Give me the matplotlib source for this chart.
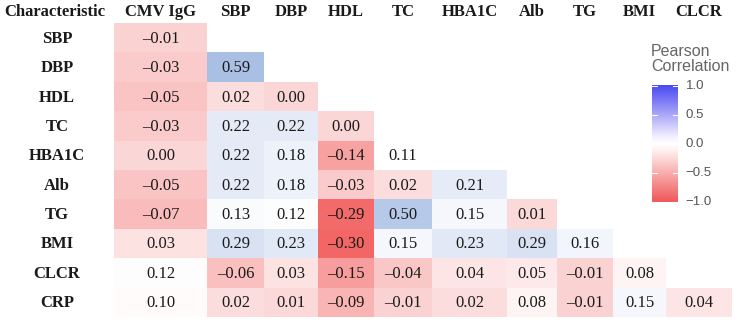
import numpy as np
import matplotlib.pyplot as plt
from matplotlib.colors import LinearSegmentedColormap, TwoSlopeNorm

cols = ["CMV IgG", "SBP", "DBP", "HDL", "TC", "HBA1C", "Alb", "TG", "BMI", "CLCR"]
rows = ["SBP", "DBP", "HDL", "TC", "HBA1C", "Alb", "TG", "BMI", "CLCR", "CRP"]

r_sbp = [-0.01]
r_dbp = [-0.03, 0.59]
r_hdl = [-0.05, 0.02, 0.00]
r_tc = [-0.03, 0.22, 0.22, 0.00]
r_hba1c = [0.00, 0.22, 0.18, -0.14, 0.11]
r_alb = [-0.05, 0.22, 0.18, -0.03, 0.02, 0.21]
r_tg = [-0.07, 0.13, 0.12, -0.29, 0.50, 0.15, 0.01]
r_bmi = [0.03, 0.29, 0.23, -0.30, 0.15, 0.23, 0.29, 0.16]
r_clcr = [0.12, -0.06, 0.03, -0.15, -0.04, 0.04, 0.05, -0.01, 0.08]
r_crp = [0.10, 0.02, 0.01, -0.09, -0.01, 0.02, 0.08, -0.01, 0.15, 0.04]
all_rows = [r_sbp, r_dbp, r_hdl, r_tc, r_hba1c, r_alb, r_tg, r_bmi, r_clcr, r_crp]

# lower triangle matrix, nan above
M = np.full((len(rows), len(cols)), np.nan)
for i, vals in enumerate(all_rows):
    M[i, :len(vals)] = vals

# layout in pixel units
xedges = np.array([114, 207, 264, 318, 374, 432, 507, 557, 613, 666, 732])
y0, rh = 23, 29.4
yedges = y0 + rh * np.arange(len(rows) + 1)

serif = ["Liberation Serif", "DejaVu Serif"]
sans = ["Liberation Sans", "DejaVu Sans"]
fs = 12

fig = plt.figure(figsize=(7.4, 3.24), dpi=100)
ax = fig.add_axes([0, 0, 1, 1])
ax.set_xlim(0, 740)
ax.set_ylim(324, 0)
ax.axis("off")

cell_cmap = LinearSegmentedColormap.from_list(
    "cells", [(0, "#f26666"), (0.5, "#ffffff"), (0.6, "#e6ecf7"), (1, "#a9bfe4")])
norm = TwoSlopeNorm(vmin=-0.30, vcenter=0.11, vmax=0.59)
ax.pcolormesh(xedges, yedges, np.ma.masked_invalid(M), cmap=cell_cmap, norm=norm)

txtc = "#1a1a1a"
for i in range(len(rows)):
    for j in range(len(cols)):
        v = M[i, j]
        if np.isnan(v):
            continue
        s = f"{abs(v):.2f}"
        if v < 0:
            s = "\u2013" + s
        ax.text((xedges[j] + xedges[j + 1]) / 2, (yedges[i] + yedges[i + 1]) / 2 + 1, s,
                ha="center", va="center", fontsize=fs, family=serif, color=txtc)

ax.text(55, 12, "Characteristic", ha="center", va="center", fontsize=fs,
        family=serif, weight="bold", color=txtc)
for j, c in enumerate(cols):
    ax.text((xedges[j] + xedges[j + 1]) / 2, 12, c, ha="center", va="center",
            fontsize=fs, family=serif, weight="bold", color=txtc)
for i, r in enumerate(rows):
    ax.text(57, (yedges[i] + yedges[i + 1]) / 2 + 1, r, ha="center", va="center",
            fontsize=fs, family=serif, weight="bold", color=txtc)

# legend colour bar
leg_cmap = LinearSegmentedColormap.from_list(
    "leg", [(0, "#f0585a"), (0.45, "#fff4f3"), (0.5, "#ffffff"), (0.55, "#f6f2ff"), (1, "#4a4af0")])
cax = fig.add_axes([652 / 740, 1 - 205 / 324, 26 / 740, 122 / 324])
grad = np.linspace(-1, 1, 200).reshape(-1, 1)
cax.imshow(grad, cmap=leg_cmap, vmin=-1, vmax=1, aspect="auto", origin="lower",
           extent=[0, 1, -1, 1])
cax.set_xlim(0, 1)
cax.set_ylim(-1.05, 1.05)
cax.axis("off")
ticks = [-1.0, -0.5, 0.0, 0.5, 1.0]
for t in ticks:
    cax.plot([0, 0.2], [t, t], color="white", lw=0.8)
    cax.plot([0.8, 1], [t, t], color="white", lw=0.8)
    lab = f"{t:.1f}".replace("-", "\u2212")
    cax.text(1.3, t, lab, ha="left", va="center", fontsize=9.5, family=sans,
             color="#555555", transform=cax.transData, clip_on=False)
ax.text(651, 59, "Pearson\nCorrelation", ha="left", va="center", fontsize=11.5,
        family=sans, color="#666666", linespacing=1.0)

fig.savefig("out.png", dpi=100)
